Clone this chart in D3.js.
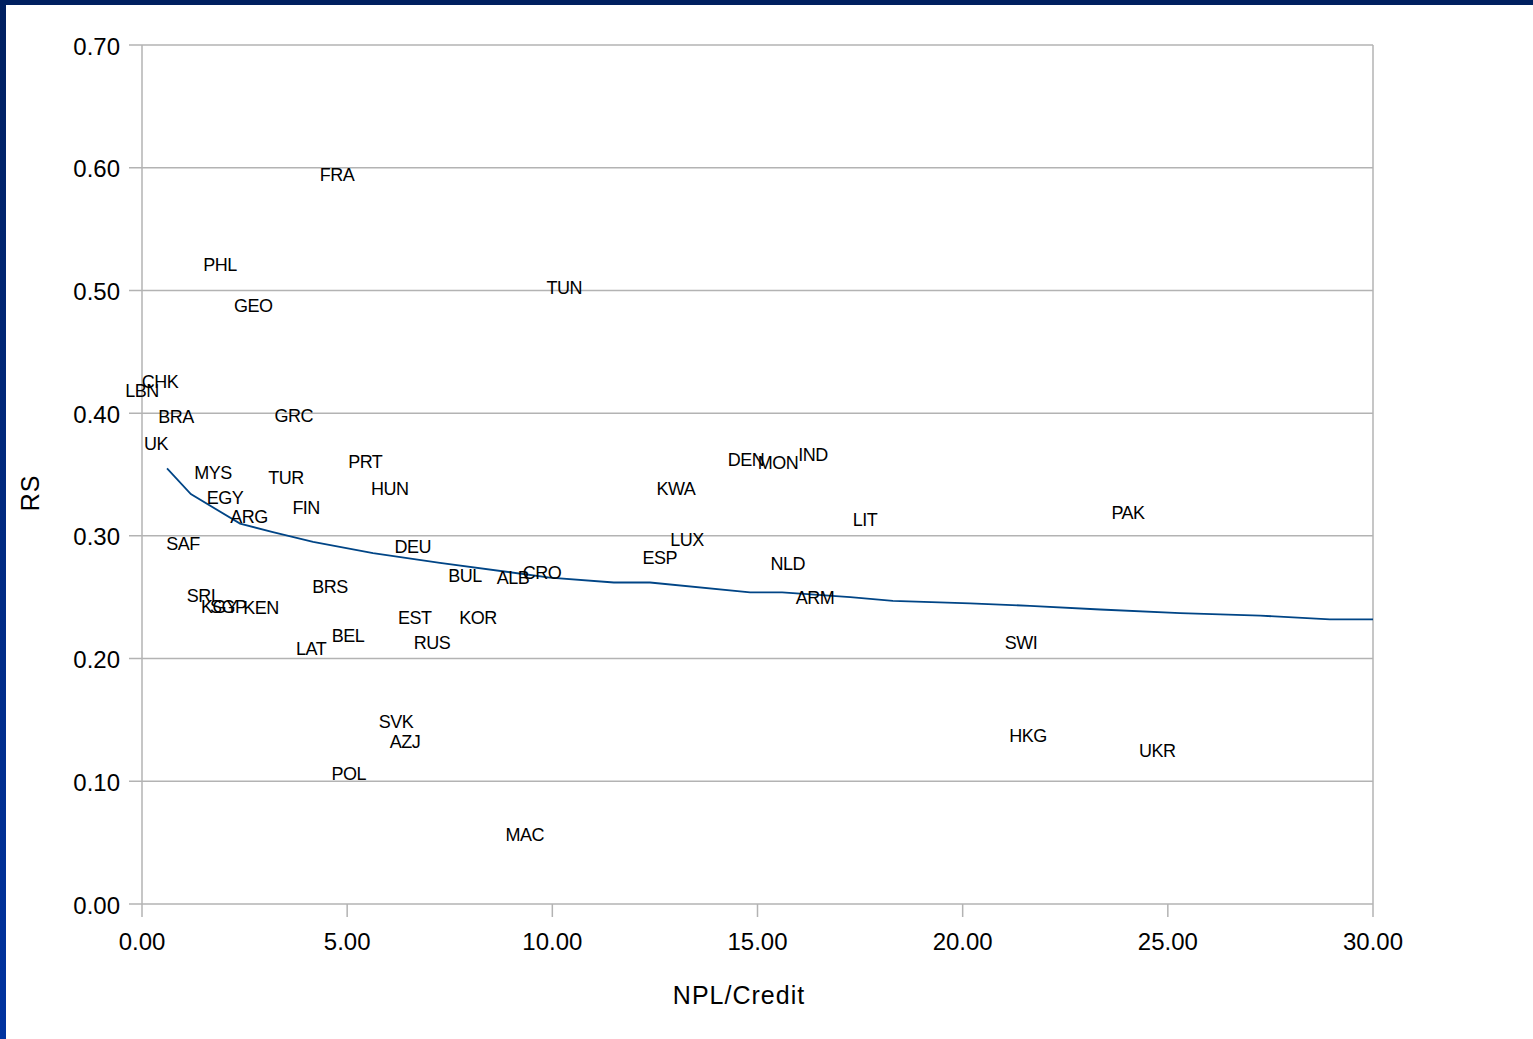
<!DOCTYPE html>
<html><head><meta charset="utf-8">
<script src="https://cdn.jsdelivr.net/npm/d3@7"></script>
<style>html,body{margin:0;padding:0;background:#fff;}svg{display:block;}</style>
</head><body>
<svg id="c" width="1533" height="1039"></svg>
<script>
const countries = ["FRA","PHL","GEO","TUN","CHK","LBN","BRA","GRC","UK","MYS","TUR","PRT","HUN","EGY","FIN","ARG","SAF","DEU","BRS","BUL","ALB","CRO","SRI","KGY","SGP","KEN","EST","KOR","BEL","RUS","LAT","SVK","AZJ","POL","MAC","KWA","DEN","MON","IND","LUX","ESP","NLD","ARM","LIT","PAK","SWI","HKG","UKR"];
const npl = [4.75,1.90,2.71,10.29,0.44,0.0,0.83,3.70,0.34,1.73,3.51,5.44,6.04,2.02,4.00,2.61,1.00,6.60,4.58,7.87,9.04,9.75,1.44,1.88,2.10,2.90,6.65,8.19,5.02,7.07,4.12,6.19,6.41,5.04,9.33,13.01,14.72,15.50,16.35,13.28,12.62,15.74,16.40,17.62,24.03,21.42,21.59,24.74];
const rs = [0.594,0.521,0.487,0.502,0.425,0.418,0.397,0.398,0.375,0.351,0.347,0.360,0.338,0.331,0.323,0.315,0.293,0.291,0.258,0.267,0.266,0.270,0.251,0.242,0.242,0.241,0.233,0.233,0.218,0.213,0.208,0.148,0.132,0.106,0.056,0.338,0.362,0.359,0.366,0.297,0.282,0.277,0.249,0.313,0.319,0.213,0.137,0.125];
const fitX = [0.61,1.19,2.39,3.19,4.17,5.63,7.26,9.94,11.5,12.38,14.82,15.6,17.26,18.3,20.18,21.64,23.35,25.30,27.25,28.95,30.0];
const fitY = [0.355,0.334,0.310,0.303,0.295,0.286,0.278,0.266,0.262,0.262,0.254,0.254,0.250,0.247,0.245,0.243,0.240,0.237,0.235,0.232,0.232];
const xTicks = [0,5,10,15,20,25,30];
const yTicks = [0,0.1,0.2,0.3,0.4,0.5,0.6,0.7];
const xTitle = "NPL/Credit", yTitle = "RS";

const svg = d3.select("#c");
const defs = svg.append("defs");
const g1 = defs.append("linearGradient").attr("id","lb").attr("x1",0).attr("y1",0).attr("x2",0).attr("y2",1);
g1.append("stop").attr("offset","0%").attr("stop-color","#002060");
g1.append("stop").attr("offset","100%").attr("stop-color","#0033a0");
svg.append("rect").attr("x",0).attr("y",0).attr("width",1533).attr("height",5).attr("fill","#002060");
svg.append("rect").attr("x",0).attr("y",0).attr("width",6).attr("height",1039).attr("fill","url(#lb)");

const L=142,R=1373,T=45,B=904;
const x = d3.scaleLinear().domain([0,30]).range([L,R]);
const y = d3.scaleLinear().domain([0,0.7]).range([B,T]);
const grid="#b3b3b3";

svg.append("g").selectAll("line").data(yTicks).join("line")
  .attr("x1",L-13).attr("x2",R).attr("y1",d=>y(d)).attr("y2",d=>y(d))
  .attr("stroke",grid).attr("stroke-width",1.5);
svg.append("line").attr("x1",L).attr("x2",L).attr("y1",T).attr("y2",B).attr("stroke",grid).attr("stroke-width",1.5);
svg.append("line").attr("x1",R).attr("x2",R).attr("y1",T).attr("y2",B).attr("stroke",grid).attr("stroke-width",1.5);
svg.append("g").selectAll("line").data(xTicks).join("line")
  .attr("x1",d=>x(d)).attr("x2",d=>x(d)).attr("y1",B).attr("y2",B+13)
  .attr("stroke",grid).attr("stroke-width",1.5);

const ff = "'Liberation Sans', Arial, sans-serif";
svg.append("g").selectAll("text").data(yTicks).join("text")
  .attr("x",120).attr("y",d=>y(d)+1).attr("text-anchor","end").attr("dominant-baseline","central")
  .attr("font-family",ff).attr("font-size",24).attr("fill","#000").text(d=>d.toFixed(2));
svg.append("g").selectAll("text").data(xTicks).join("text")
  .attr("x",d=>x(d)).attr("y",941).attr("text-anchor","middle").attr("dominant-baseline","central")
  .attr("font-family",ff).attr("font-size",24).attr("fill","#000").text(d=>d.toFixed(2));

svg.append("text").attr("x",739).attr("y",995).attr("text-anchor","middle").attr("dominant-baseline","central")
  .attr("font-family",ff).attr("font-size",25).attr("letter-spacing",1).text(xTitle);
svg.append("text").attr("transform","translate(30,493) rotate(-90)").attr("text-anchor","middle").attr("dominant-baseline","central")
  .attr("font-family",ff).attr("font-size",25).attr("letter-spacing",1).text(yTitle);

const line = d3.line().x(d=>x(d[0])).y(d=>y(d[1]));
svg.append("path").datum(fitX.map((v,i)=>[v,fitY[i]])).attr("d",line)
  .attr("fill","none").attr("stroke","#004586").attr("stroke-width",1.8);

svg.append("g").selectAll("text").data(countries).join("text")
  .attr("x",(d,i)=>x(npl[i])).attr("y",(d,i)=>y(rs[i]))
  .attr("text-anchor","middle").attr("dominant-baseline","central")
  .attr("font-family",ff).attr("font-size",18).attr("letter-spacing",-0.5).attr("fill","#000")
  .text(d=>d);
</script>
</body></html>
